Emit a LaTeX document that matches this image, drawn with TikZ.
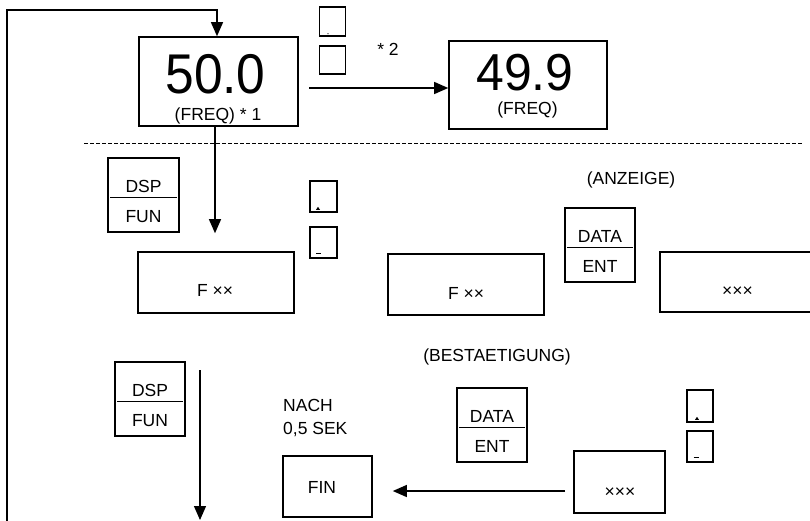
\documentclass[tikz,border=0pt]{standalone}
\usepackage{fontspec}
\setmainfont{Liberation Sans}
\usetikzlibrary{arrows.meta}

\begin{document}
\begin{tikzpicture}[x = 1pt, y = -1pt]

    \tikzset{
      panel/.style={
        draw,
        line width=1.6pt,
        inner sep=0pt,
      },
      keytxt/.style={
        anchor=base,
        inner sep=0pt,
        font=\fontsize{17.5}{20}\selectfont,
      },
      digits/.style={
        anchor=base,
        inner sep=0pt,
      },
      flow/.style={
        line width=1.2pt,
        -{Triangle[length=14pt,width=12pt]},
      },
    }
    \useasboundingbox (0,0) rectangle (810,520);
    \clip (0,0) rectangle (810,520);

	% upper part: frequency display
	\node[panel, minimum width=159pt, minimum height=89pt] (freqA) at (218.5,81.5) {};
	\node[digits, font=\fontsize{56}{56}\selectfont] (valA) at (215.5,93) {\scalebox{0.92}[1]{50.0}};
	\node[keytxt] (capA) at (218,120) {(FREQ) * 1};
	\node[panel, minimum width=158pt, minimum height=88pt] (freqB) at (528,85) {};
	\node[digits, font=\fontsize{52}{52}\selectfont] (valB) at (525,90) {\scalebox{0.96}[1]{49.9}};
	\node[keytxt] (capB) at (527.5,114) {(FREQ)};

	\node[panel, minimum width=26pt, minimum height=29pt] (upA) at (332.5,21.5) {};
	\node[panel, minimum width=26pt, minimum height=28pt] (downA) at (332.5,60) {};
	\fill ([shift={(-4.5,-3)}]upA.south) circle (0.6pt);
	\node[keytxt] (star2) at (388,55) {* 2};

	\coordinate (ltop) at (7,10);
	\coordinate (lbot) at (7,522);
	\draw[flow] (lbot) -- (ltop) -| ([xshift=-1.5pt]freqA.north);
	\coordinate (hstart) at (309,88);
	\draw[flow] (hstart) -- (hstart -| freqB.west);

	\draw[line width=0.8pt, dash pattern=on 4pt off 2pt] (84,143) -- (803,143);

	% function selection
	\node[panel, minimum width=71pt, minimum height=74pt] (dspA) at (143.5,195) {};
	\draw[line width=1pt] ([shift={(3,2)}]dspA.west) -- ([shift={(-3,2)}]dspA.east);
	\node[keytxt] at ([yshift=3pt]dspA.center) {DSP};
	\node[keytxt] at ([yshift=-27pt]dspA.center) {FUN};

	\node[panel, minimum width=27pt, minimum height=31pt] (upB) at (323.5,196.5) {};
	\node[panel, minimum width=27pt, minimum height=31pt] (downB) at (323.5,242.5) {};
	\fill ([shift={(-5.5,-6)}]upB.south) -- ++(-2,3) -- ++(4,0) -- cycle;
	\draw[line width=1pt] ([shift={(-7.5,-5)}]downB.south) -- ++(5,0);

	\node[panel, minimum width=156pt, minimum height=61pt] (fxxA) at (216,282.5) {};
	\node[keytxt] at (215,296) {F ××};
	\draw[flow, shorten >=18pt] ([xshift=-3.5pt]freqA.south) -- ([xshift=-3.5pt]freqA.south |- fxxA.north);

	\node[panel, minimum width=156pt, minimum height=61pt] (fxxB) at (466,284.5) {};
	\node[keytxt] at (466,299) {F ××};

	\node[keytxt] (show) at (631,184) {(ANZEIGE)};
	\node[panel, minimum width=70pt, minimum height=74pt] (dataA) at (600,245) {};
	\draw[line width=1pt] ([shift={(3,2)}]dataA.west) -- ([shift={(-3,2)}]dataA.east);
	\node[keytxt] at ([yshift=3pt]dataA.center) {DATA};
	\node[keytxt] at ([yshift=-27pt]dataA.center) {ENT};

	\node[panel, minimum width=155pt, minimum height=60pt] (xxxA) at (737.5,282) {};
	\node[keytxt] at (737.5,296) {×××};

	% confirmation
	\node[keytxt] (confirm) at (497,361) {(BESTAETIGUNG)};

	\node[panel, minimum width=70pt, minimum height=74pt] (dspB) at (150,399) {};
	\draw[line width=1pt] ([shift={(3,2)}]dspB.west) -- ([shift={(-3,2)}]dspB.east);
	\node[keytxt] at ([yshift=3pt]dspB.center) {DSP};
	\node[keytxt] at ([yshift=-27pt]dspB.center) {FUN};
	\coordinate (vtop) at (200,370);
	\coordinate (vbot) at (200,520);
	\draw[flow] (vtop) -- (vbot);

	\node[keytxt, anchor=base west] (after) at (283,411) {NACH};
	\node[keytxt, anchor=base west] (delay) at (283,434) {0,5 SEK};
	\node[panel, minimum width=89pt, minimum height=61pt] (fin) at (327.5,486.5) {};
	\node[keytxt] at (322,493) {FIN};

	\node[panel, minimum width=70pt, minimum height=74pt] (dataB) at (492,425) {};
	\draw[line width=1pt] ([shift={(3,2)}]dataB.west) -- ([shift={(-3,2)}]dataB.east);
	\node[keytxt] at ([yshift=3pt]dataB.center) {DATA};
	\node[keytxt] at ([yshift=-27pt]dataB.center) {ENT};

	\node[panel, minimum width=91pt, minimum height=62pt] (xxxB) at (619.5,482) {};
	\node[keytxt] at (620,497) {×××};
	\coordinate (fstart) at (565,491);
	\draw[flow, shorten >=20pt] (fstart) -- (fstart -| fin.east);

	\node[panel, minimum width=26pt, minimum height=32pt] (upC) at (700,406) {};
	\node[panel, minimum width=26pt, minimum height=31pt] (downC) at (700,446.5) {};
	\fill ([shift={(-3,-6)}]upC.south) -- ++(-2,3) -- ++(4,0) -- cycle;
	\draw[line width=1pt] ([shift={(-6.5,-5)}]downC.south) -- ++(5,0);

\end{tikzpicture}
\end{document}
